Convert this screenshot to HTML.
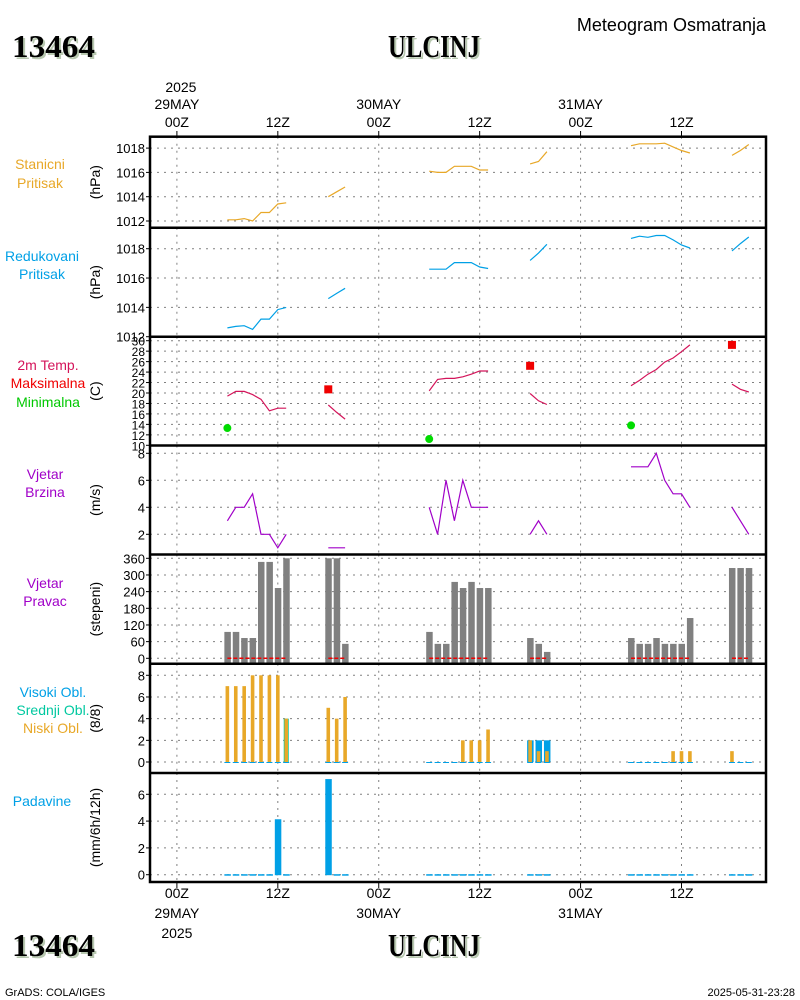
<!DOCTYPE html>
<html><head><meta charset="utf-8"><style>
html,body{margin:0;padding:0;background:#fff;}
svg{display:block;font-family:"Liberation Sans",sans-serif;}
.t{font-family:"Liberation Sans",sans-serif;font-size:14px;}
.big{font-family:"Liberation Serif",serif;font-weight:bold;font-size:32px;}
</style></head><body>
<svg id="chart" width="800" height="1000" viewBox="0 0 800 1000" xmlns="http://www.w3.org/2000/svg">
<g>
<text x="14" y="59" class="big" fill="#b8c8b0" textLength="83" lengthAdjust="spacingAndGlyphs">13464</text>
<text x="12" y="57" class="big" fill="#000" textLength="83" lengthAdjust="spacingAndGlyphs">13464</text>
<text x="390" y="59" class="big" fill="#b8c8b0" textLength="92" lengthAdjust="spacingAndGlyphs">ULCINJ</text>
<text x="388" y="57" class="big" fill="#000" textLength="92" lengthAdjust="spacingAndGlyphs">ULCINJ</text>
<text x="766" y="31" class="t" text-anchor="end" style="font-size:18px">Meteogram Osmatranja</text>
<text x="14" y="958" class="big" fill="#b8c8b0" textLength="83" lengthAdjust="spacingAndGlyphs">13464</text>
<text x="12" y="956" class="big" fill="#000" textLength="83" lengthAdjust="spacingAndGlyphs">13464</text>
<text x="390" y="958" class="big" fill="#b8c8b0" textLength="92" lengthAdjust="spacingAndGlyphs">ULCINJ</text>
<text x="388" y="956" class="big" fill="#000" textLength="92" lengthAdjust="spacingAndGlyphs">ULCINJ</text>
<text x="5" y="996" style="font-size:11px" class="t">GrADS: COLA/IGES</text>
<text x="795" y="996" style="font-size:11px" class="t" text-anchor="end">2025-05-31-23:28</text>
</g>
<g class="t" text-anchor="middle">
<text x="40" y="169" fill="#e8a828" class="t">Stanicni</text>
<text x="40" y="188" fill="#e8a828" class="t">Pritisak</text>
<text x="42" y="261" fill="#00a0e6" class="t">Redukovani</text>
<text x="42" y="279" fill="#00a0e6" class="t">Pritisak</text>
<text x="48" y="370" fill="#d4145a" class="t">2m Temp.</text>
<text x="48" y="388" fill="#f00000" class="t">Maksimalna</text>
<text x="48" y="407" fill="#00c800" class="t">Minimalna</text>
<text x="45" y="479" fill="#a000c8" class="t">Vjetar</text>
<text x="45" y="497" fill="#a000c8" class="t">Brzina</text>
<text x="45" y="588" fill="#a000c8" class="t">Vjetar</text>
<text x="45" y="606" fill="#a000c8" class="t">Pravac</text>
<text x="53" y="697" fill="#00a0e6" class="t">Visoki Obl.</text>
<text x="53" y="715" fill="#00c8a0" class="t">Srednji Obl.</text>
<text x="53" y="733" fill="#e8a828" class="t">Niski Obl.</text>
<text x="42" y="806" fill="#00a0e6" class="t">Padavine</text>
</g>
<g id="plot"></g>
</svg>
<script>
const hours=[6,7,8,9,10,11,12,13,18,19,20,30,31,32,33,34,35,36,37,42,43,44,54,55,56,57,58,59,60,61,66,67,68];
const stationP=[1012.1,1012.1,1012.2,1012.0,1012.7,1012.7,1013.4,1013.5,1014.0,1014.4,1014.8,1016.1,1016.0,1016.0,1016.5,1016.5,1016.5,1016.2,1016.2,1016.7,1016.9,1017.7,1018.2,1018.35,1018.35,1018.35,1018.4,1018.1,1017.8,1017.6,1017.4,1017.8,1018.3];
const reducedP=[1012.6,1012.7,1012.75,1012.5,1013.2,1013.2,1013.85,1014.0,1014.6,1014.95,1015.3,1016.6,1016.6,1016.6,1017.05,1017.05,1017.05,1016.75,1016.65,1017.2,1017.7,1018.3,1018.7,1018.85,1018.78,1018.9,1018.9,1018.6,1018.25,1018.05,1017.85,1018.35,1018.8];
const temp=[19.4,20.3,20.3,19.7,18.8,16.6,17.1,17.1,17.7,16.3,15.0,20.4,22.6,22.8,22.8,23.1,23.6,24.2,24.2,19.9,18.5,17.8,21.4,22.4,23.6,24.5,25.9,26.7,27.9,29.2,21.7,20.7,20.2];
const maxHours=[18,42,66];
const maxTemp=[20.7,25.2,29.2];
const minHours=[6,30,54];
const minTemp=[13.3,11.2,13.8];
const windSpeed=[3,4,4,5,2,2,1,2,1,1,1,4,2,6,3,6,4,4,4,2,3,2,7,7,7,8,6,5,5,4,4,3,2];
const windDir=[95,95,73,73,347,347,253,360,360,360,52,95,52,52,275,253,275,253,253,73,52,23,73,52,52,73,52,52,52,145,325,325,325];
const cloudLow=[7,7,7,8,8,8,8,4,5,4,6,0,0,0,0,2,2,2,3,2,1,1,0,0,0,0,0,1,1,1,1,0,0];
const cloudMid=[0,0,0,0,0,0,0,4,0,0,0,0,0,0,0,0,0,0,0,0,0,0,0,0,0,0,0,0,0,0,0,0,0];
const cloudHigh=[0,0,0,0,0,0,0,0,0,0,0,0,0,0,0,0,0,0,0,2,2,2,0,0,0,0,0,0,0,0,0,0,0];
const precip=[0,0,0,0,0,0,4.1,0,7.1,0,0,0,0,0,0,0,0,0,0,0,0,0,0,0,0,0,0,0,0,0,0,0,0];
const gridHours=[0,12,24,36,48,60];
const timeLabels=["00Z","12Z","00Z","12Z","00Z","12Z"];
const dayLabels=["29MAY","","30MAY","","31MAY",""];
const pTicks1=[1012,1014,1016,1018];
const pTicks2=[1012,1014,1016,1018];
const tTicks=[10,12,14,16,18,20,22,24,26,28,30];
const wsTicks=[2,4,6,8];
const wdTicks=[0,60,120,180,240,300,360];
const clTicks=[0,2,4,6,8];
const prTicks=[0,2,4,6];

const NS="http://www.w3.org/2000/svg";
const root=document.getElementById('plot');
const L=150,R=766;
const X=h=>176.9+h*8.41;
function mk(tag,attrs,parent){const e=document.createElementNS(NS,tag);for(const k in attrs)e.setAttribute(k,attrs[k]);(parent||root).appendChild(e);return e;}
function lin(v0,y0,v1,y1){return v=>y0+(v-v0)*(y1-y0)/(v1-v0);}
const panels=[
 {name:'station-pressure',top:136.7,bot:227.7,y:lin(1012,221,1018,148.1),ticks:pTicks1,grid:[1012,1014,1016,1018],title:'(hPa)'},
 {name:'reduced-pressure',top:227.7,bot:336.7,y:lin(1012,336.7,1018,248.7),ticks:pTicks2,grid:[1014,1016,1018],title:'(hPa)'},
 {name:'temperature',top:336.7,bot:445.5,y:lin(10,445.3,30,340.7),ticks:tTicks,grid:[12,14,16,18,20,22,24,26,28,30],title:'(C)'},
 {name:'wind-speed',top:445.5,bot:554.5,y:lin(2,534.3,8,453.3),ticks:wsTicks,grid:wsTicks,title:'(m/s)'},
 {name:'wind-direction',top:554.5,bot:663.7,y:lin(0,658.3,360,558.3),ticks:wdTicks,grid:wdTicks,title:'(stepeni)'},
 {name:'cloud-cover',top:663.7,bot:773,y:lin(0,762,8,675.3),ticks:clTicks,grid:clTicks,title:'(8/8)'},
 {name:'precipitation',top:773,bot:882,y:lin(0,874.7,6,794.3),ticks:prTicks,grid:prTicks,title:'(mm/6h/12h)'}
];
panels.forEach(p=>{
 const g=mk('g',{});
 
 
 p.g=g;
 const clip=mk('clipPath',{id:'c-'+p.name},g);
 mk('rect',{x:L,y:p.top,width:R-L,height:p.bot-p.top},clip);
 gridHours.forEach(h=>{const l=mk('line',{x1:X(h),x2:X(h),y1:p.top,y2:p.bot,stroke:'#808080','stroke-width':1,'stroke-dasharray':'2,5'},g);
  });
 p.grid.forEach(v=>{const l=mk('line',{x1:L,x2:R,y1:p.y(v),y2:p.y(v),stroke:'#808080','stroke-width':1,'stroke-dasharray':'2,5'},g);
  });
 const fs=p.name==='temperature'?'12px':'13px';
 p.ticks.forEach(v=>{const yy=p.y(v);
  const tk=mk('line',{x1:L-4,x2:L,y1:yy,y2:yy,stroke:'#000','stroke-width':1},g);
  
  const t=mk('text',{x:L-5,y:yy+5,'text-anchor':'end',class:'t',style:'font-size:'+fs},g);
  t.textContent=v;});
 const tt=mk('text',{x:0,y:0,transform:'translate(100,'+((p.top+p.bot)/2)+') rotate(-90)','text-anchor':'middle',class:'t'},g);
 tt.textContent=p.title;
 p.cg=mk('g',{'clip-path':'url(#c-'+p.name+')'},g);
});
function segments(){const segs=[];let cur=[];hours.forEach((h,i)=>{if(cur.length&&h-hours[cur[cur.length-1]]>1){segs.push(cur);cur=[];}cur.push(i);});segs.push(cur);return segs;}
function lineSeries(p,vals,color,name){segments().forEach(s=>{const pts=s.map(i=>X(hours[i]).toFixed(1)+','+p.y(vals[i]).toFixed(1)).join(' ');
 const pl=mk('polyline',{points:pts,fill:'none',stroke:color,'stroke-width':1.2},p.cg);
 });}
lineSeries(panels[0],stationP,'#e8a828','station-pressure-line');
lineSeries(panels[1],reducedP,'#00a0e6','reduced-pressure-line');
lineSeries(panels[2],temp,'#d4145a','temperature-line');
lineSeries(panels[3],windSpeed,'#a000c8','wind-speed-line');
const pt=panels[2];
maxHours.forEach((h,i)=>{const r=mk('rect',{x:X(h)-4,y:pt.y(maxTemp[i])-4,width:8,height:8,fill:'#f00000'},pt.cg);
 });
minHours.forEach((h,i)=>{const c=mk('circle',{cx:X(h),cy:pt.y(minTemp[i]),r:4,fill:'#00dc00'},pt.cg);
 });
const pw=panels[4];
hours.forEach((h,i)=>{const y0=pw.y(0),y1=pw.y(windDir[i]);
 const b=mk('rect',{x:X(h)-3,y:y1,width:6.5,height:y0-y1+5,fill:'#808080'},pw.cg);
 });
segments().forEach(s=>{const l=mk('line',{x1:X(hours[s[0]]),x2:X(hours[s[s.length-1]]),y1:pw.y(0),y2:pw.y(0),stroke:'#f00000','stroke-width':1.5,'stroke-dasharray':'4,2'},pw.cg);
 });
const pc=panels[5];
hours.forEach((h,i)=>{const y0=pc.y(0);
 if(cloudHigh[i]>0){const b=mk('rect',{x:X(h)-3,y:pc.y(cloudHigh[i]),width:6.5,height:y0-pc.y(cloudHigh[i]),fill:'#00a0e6'},pc.cg);
  }
 if(cloudMid[i]>0){const b=mk('rect',{x:X(h)-2.5,y:pc.y(cloudMid[i]),width:5,height:y0-pc.y(cloudMid[i]),fill:'#00c8a0'},pc.cg);
  }
 const v=cloudLow[i];
 const b=mk('rect',{x:X(h)-1.8,y:pc.y(v),width:3.6,height:Math.max(1,y0-pc.y(v)),fill:'#e8a828'},pc.cg);
 
 const z=mk('line',{x1:X(h)-3,x2:X(h)+3,y1:y0+0.5,y2:y0+0.5,stroke:'#00a0e6','stroke-width':1},pc.cg);
 
});
const pp=panels[6];
hours.forEach((h,i)=>{const y0=pp.y(0),y1=pp.y(precip[i]);
 const b=mk('rect',{x:X(h)-3,y:y1-0.5,width:6.5,height:Math.max(1.5,y0-y1+1),fill:'#00a0e6'},pp.cg);
 });
panels.forEach((p,i)=>{if(i>0){const l=mk('line',{x1:L,x2:R,y1:p.top,y2:p.top,stroke:'#000','stroke-width':2.5});
 }});
const fr=mk('rect',{x:L,y:136.7,width:R-L,height:882-136.7,fill:'none',stroke:'#000','stroke-width':2.5});

gridHours.forEach((h,i)=>{const x=X(h);
 const t1=mk('line',{x1:x,x2:x,y1:131,y2:137,stroke:'#000'});
 const t2=mk('line',{x1:x,x2:x,y1:882,y2:888,stroke:'#000'});
 const a=mk('text',{x:x,y:127,'text-anchor':'middle',class:'t'});a.textContent=timeLabels[i];
 const b=mk('text',{x:x,y:898,'text-anchor':'middle',class:'t'});b.textContent=timeLabels[i];
 if(dayLabels[i]){const c=mk('text',{x:x,y:109,'text-anchor':'middle',class:'t'});c.textContent=dayLabels[i];
  const d=mk('text',{x:x,y:918,'text-anchor':'middle',class:'t'});d.textContent=dayLabels[i];}
});
const y1=mk('text',{x:X(0)+4,y:92,'text-anchor':'middle',class:'t'});y1.textContent='2025';
const y2=mk('text',{x:X(0),y:938,'text-anchor':'middle',class:'t'});y2.textContent='2025';
</script>
</body></html>
